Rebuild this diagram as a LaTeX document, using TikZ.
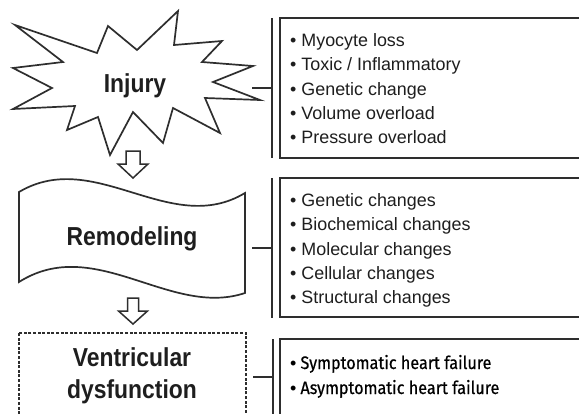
\documentclass[tikz,border=0pt]{standalone}
\usepackage{fontspec}
\setmainfont{Liberation Sans}
\newfontfamily\titlefont[FakeStretch=0.88]{Liberation Sans}
\newfontfamily\dinfont[FakeStretch=0.9,FakeBold=0.6]{Fira Sans}
\definecolor{ink}{HTML}{1E1E1E}
\definecolor{linec}{HTML}{2E2E2E}
\tikzset{
  titletext/.style={font=\titlefont\bfseries\fontsize{26}{32}\selectfont, text=ink, inner sep=0pt, anchor=base, align=center},
  itemtext/.style={font=\fontsize{17.9}{24.3}\selectfont, text=ink, inner sep=0pt, anchor=base west, align=left},
  itemtextb/.style={font=\dinfont\fontsize{18}{25}\selectfont, text=black, inner sep=0pt, anchor=base west, align=left},
  shapeline/.style={draw=linec, line width=1.7pt, line join=miter},
  boxline/.style={draw=linec, line width=2pt},
  barline/.style={draw=linec, line width=1.8pt},
  connline/.style={draw=linec, line width=1.6pt},
  blockarrow/.style={draw=linec, fill=white, line width=1.5pt, line join=miter},
  dashbox/.style={draw=linec, line width=2pt, dash pattern=on 3pt off 1.6pt}
}
\begin{document}
\begin{tikzpicture}[x=1pt,y=-1pt]
\useasboundingbox (0,0) rectangle (579,413);
\clip (0,0) rectangle (579,413);
\fill[white] (0,0) rectangle (579,413);

% star (injury)
\draw[shapeline] (15,25) -- (97,53) -- (108,26) -- (137,50) -- (178,11) -- (174,45)
  -- (222,41) -- (202,62) -- (253,66) -- (213,82) -- (260,100) -- (205,98)
  -- (220,133) -- (173,108) -- (163,143) -- (133,112) -- (110,155) -- (98,117)
  -- (67,130) -- (75,106) -- (13,109) -- (52,88) -- (13,68) -- (63,62) -- cycle;
\node[titletext] (injury) at (135,92) {Injury};

% wave (remodeling)
\draw[shapeline] (19,192) .. controls (95,147) and (170,238) .. (245,193)
  -- (245,293) .. controls (170,318) and (95,234) .. (19,282) -- cycle;
\node[titletext] (remodeling) at (132,245) {Remodeling};

% dashed box (ventricular dysfunction)
\draw[dashbox] (19,333) rectangle (246,425);
\node[titletext] (ventricular) at (132,398) {Ventricular\\dysfunction};

% block arrows
\draw[blockarrow] (126,151) -- (140,151) -- (140,164) -- (148,164) -- (133,178)
  -- (118,164) -- (126,164) -- cycle;
\draw[blockarrow] (127.5,298) -- (138.5,298) -- (138.5,311) -- (147.5,311) -- (133,324)
  -- (118.5,311) -- (127.5,311) -- cycle;

% right boxes
\draw[boxline] (590,18) -- (280,18) -- (280,158) -- (590,158);
\draw[boxline] (590,178) -- (280,178) -- (280,317) -- (590,317);
\draw[boxline] (590,339) -- (280,339) -- (280,425);

% bars
\coordinate (bar1top) at (272,18);  \coordinate (bar1bot) at (272,158);
\coordinate (bar2top) at (272,178); \coordinate (bar2bot) at (272,318);
\coordinate (bar3top) at (273,339); \coordinate (bar3bot) at (273,425);
\draw[barline] (bar1top) -- (bar1bot);
\draw[barline] (bar2top) -- (bar2bot);
\draw[barline] (bar3top) -- (bar3bot);

% connectors
\coordinate (c1a) at (252,88);  \coordinate (c1b) at (272,88);
\coordinate (c2a) at (252,248); \coordinate (c2b) at (272,248);
\coordinate (c3a) at (253,377); \coordinate (c3b) at (273,377);
\draw[connline] (c1a) -- (c1b);
\draw[connline] (c2a) -- (c2b);
\draw[connline] (c3a) -- (c3b);

% lists (anchor = baseline of the last line)
\node[itemtext] (list1) at (290,143.7) {• Myocyte loss\\• Toxic / Inflammatory\\• Genetic change\\• Volume overload\\• Pressure overload};
\node[itemtext] (list2) at (290,303.7) {• Genetic changes\\• Biochemical changes\\• Molecular changes\\• Cellular changes\\• Structural changes};
\node[itemtextb] (list3) at (290,394) {\fontspec{Liberation Sans}•\hspace{4pt}\dinfont\fontsize{18}{25}\selectfont Symptomatic heart failure\\\fontspec{Liberation Sans}•\hspace{4pt}\dinfont\fontsize{18}{25}\selectfont Asymptomatic heart failure};
\end{tikzpicture}
\end{document}
